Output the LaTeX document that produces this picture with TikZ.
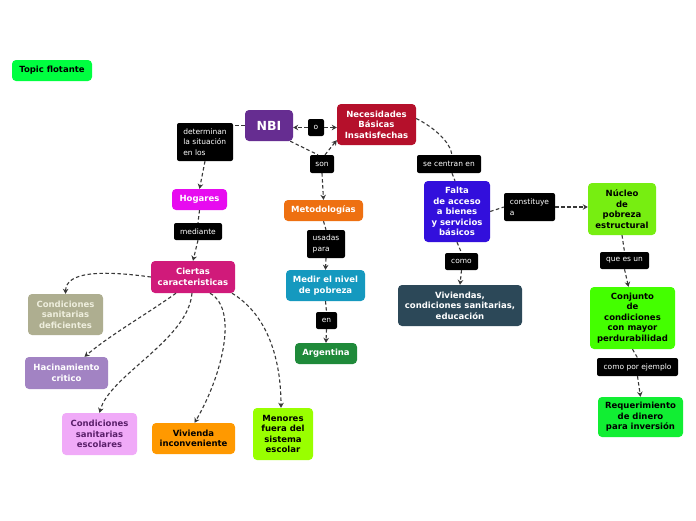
\documentclass[tikz,border=0pt]{standalone}
\usepackage{fontspec}
\setmainfont{DejaVu Sans}
\usetikzlibrary{arrows.meta,calc}
\definecolor{cnbi}{RGB}{102,45,145}
\definecolor{cnec}{RGB}{181,16,43}
\definecolor{chog}{RGB}{231,11,240}
\definecolor{cmet}{RGB}{238,112,17}
\definecolor{ccie}{RGB}{208,26,122}
\definecolor{cmed}{RGB}{21,153,191}
\definecolor{carg}{RGB}{31,138,58}
\definecolor{cfal}{RGB}{50,15,220}
\definecolor{cviv}{RGB}{44,72,88}
\definecolor{cnuc}{RGB}{119,238,17}
\definecolor{ccon}{RGB}{68,255,0}
\definecolor{creq}{RGB}{17,238,51}
\definecolor{ctop}{RGB}{0,255,64}
\definecolor{cdef}{RGB}{174,174,144}
\definecolor{tdef}{RGB}{238,238,221}
\definecolor{chac}{RGB}{162,131,195}
\definecolor{cesc}{RGB}{240,170,248}
\definecolor{tesc}{RGB}{90,31,106}
\definecolor{cvin}{RGB}{255,153,0}
\definecolor{cmen}{RGB}{153,255,0}
\definecolor{cline}{RGB}{55,55,55}
\tikzset{
  box/.style={rounded corners=4pt, font=\bfseries\fontsize{8.5}{10.5}\selectfont, align=center, inner sep=1pt, text=white},
  lbl/.style={fill=black, rounded corners=2pt, text=white, font=\fontsize{7.5}{10.5}\selectfont, inner sep=1pt},
  conn/.style={draw=cline, line width=1.1pt, dash pattern=on 3.5pt off 2.5pt},
  arr/.style={-{Stealth[length=5pt,width=5.5pt]}}
}
\begin{document}
\begin{tikzpicture}[x=1pt,y=-1pt]
\useasboundingbox[fill=white] (0,0) rectangle (696,520);
% nodes
\node[box, fill=ctop, text=black, minimum width=80pt, minimum height=21pt] (top) at (52,70.5) {Topic flotante};
\node[box, fill=cnbi, font=\bfseries\fontsize{12.5}{14}\selectfont, minimum width=48pt, minimum height=31pt] (nbi) at (269,125.5) {NBI};
\node[box, fill=cnec, minimum width=79pt, minimum height=41pt] (nec) at (376.5,124.5) {Necesidades\\Básicas\\Insatisfechas};
\node[lbl, minimum width=16pt, minimum height=17pt] (o) at (316,127.5) {o};
\node[lbl, align=left, minimum width=56pt, minimum height=38pt] (det) at (205,142) {determinan\\la situación\\en los};
\node[lbl, minimum width=24pt, minimum height=18pt] (son) at (322,164) {son};
\node[lbl, minimum width=64pt, minimum height=18pt] (sce) at (449,164) {se centran en};
\node[box, fill=chog, minimum width=55pt, minimum height=21pt] (hog) at (199.5,199.5) {Hogares};
\node[box, fill=cmet, minimum width=79pt, minimum height=21pt] (met) at (323.5,210.5) {Metodologías};
\node[lbl, minimum width=48pt, minimum height=17pt] (mdt) at (198,231.5) {mediante};
\node[lbl, align=left, minimum width=38pt, minimum height=28pt] (usa) at (326,244) {usadas\\para};
\node[box, fill=cfal, minimum width=66pt, minimum height=61pt] (fal) at (457,211.5) {Falta\\de acceso\\a bienes\\y servicios\\básicos};
\node[lbl, align=left, minimum width=51pt, minimum height=28pt] (cst) at (529.5,207) {constituye\\a};
\node[box, fill=cnuc, text=black, minimum width=68pt, minimum height=52pt] (nuc) at (622,209) {Núcleo\\de\\pobreza\\estructural};
\node[lbl, minimum width=33pt, minimum height=17pt] (como) at (461.5,261.5) {como};
\node[lbl, minimum width=49pt, minimum height=17pt] (qeu) at (624.5,260.5) {que es un};
\node[box, fill=ccie, minimum width=84pt, minimum height=32pt] (cie) at (193,277) {Ciertas\\caracteristicas};
\node[box, fill=cmed, minimum width=79pt, minimum height=31pt] (med) at (325.5,285.5) {Medir el nivel\\de pobreza};
\node[box, fill=cviv, minimum width=124pt, minimum height=41pt] (viv) at (460,305.5) {Viviendas,\\condiciones sanitarias,\\educación};
\node[box, fill=ccon, text=black, minimum width=85pt, minimum height=62pt] (cnj) at (632.5,318) {Conjunto\\de\\condiciones\\con mayor\\perdurabilidad};
\node[box, fill=cdef, text=tdef, minimum width=75pt, minimum height=41pt] (def) at (65.5,314.5) {Condiciones\\sanitarias\\deficientes};
\node[lbl, minimum width=21pt, minimum height=17pt] (en) at (326.5,320.5) {en};
\node[box, fill=carg, minimum width=62pt, minimum height=21pt] (arg) at (326,353.5) {Argentina};
\node[box, fill=chac, minimum width=83pt, minimum height=32pt] (hac) at (66.5,373) {Hacinamiento\\critico};
\node[lbl, minimum width=81pt, minimum height=18pt] (cpe) at (637.5,367) {como por ejemplo};
\node[box, fill=creq, text=black, minimum width=85pt, minimum height=40pt] (req) at (640.5,417) {Requerimiento\\de dinero\\para inversión};
\node[box, fill=cesc, text=tesc, minimum width=75pt, minimum height=42pt] (esc) at (99.5,434) {Condiciones\\sanitarias\\escolares};
\node[box, fill=cvin, text=black, minimum width=83pt, minimum height=31pt] (vin) at (193.5,438.5) {Vivienda\\inconveniente};
\node[box, fill=cmen, text=black, minimum width=60pt, minimum height=52pt] (men) at (283,434) {Menores\\fuera del\\sistema\\escolar};
% connectors
\draw[conn] (nbi.west) -- (det.east |- nbi.west);
\draw[conn,arr] (det.south) -- (hog.north);
\draw[conn,arr] (o.west) -- (nbi.east |- o.west);
\draw[conn,arr] (o.east) -- (nec.west |- o.east);
\draw[conn] ($(nbi.south east)+(-3,0)$) -- ($(son.north)+(-4,0)$);
\draw[conn,arr] ($(son.north)+(3,0)$) -- ($(nec.south west)+(0,-5)$);
\draw[conn,arr] (son.south) -- (met.north);
\draw[conn] ($(nec.east)+(0,-6)$) .. controls (435,128) and (450,142) .. ($(sce.north)+(3,0)$);
\draw[conn] ($(sce.south)+(3,0)$) -- ($(fal.north)+(-2,0)$);
\draw[conn] (hog.south) -- (mdt.north);
\draw[conn,arr] (mdt.south) -- (cie.north);
\draw[conn] (met.south) -- (usa.north);
\draw[conn,arr] (usa.south) -- (med.north);
\draw[conn] (med.south) -- (en.north);
\draw[conn,arr] (en.south) -- (arg.north);
\draw[conn] (fal.south) -- (como.north);
\draw[conn,arr] (como.south) -- (viv.north);
\draw[conn] (fal.east) -- (cst.west);
\draw[conn,arr] (cst.east) -- (nuc.west |- cst.east);
\draw[conn] (nuc.south) -- (qeu.north);
\draw[conn,arr] (qeu.south) -- ($(cnj.north)+(-4,0)$);
\draw[conn] (cnj.south) -- (cpe.north);
\draw[conn,arr] (cpe.south) -- (req.north);
\draw[conn,arr] (cie.west) .. controls (100,270) and (66,272) .. (def.north);
\draw[conn,arr] ($(cie.south)+(-17,0)$) .. controls (150,312) and (110,335) .. ($(hac.north)+(18,0)$);
\draw[conn,arr] ($(cie.south)+(-1,0)$) .. controls (188,340) and (110,375) .. (esc.north);
\draw[conn,arr] ($(cie.south)+(17,0)$) .. controls (240,310) and (220,380) .. ($(vin.north)+(1,0)$);
\draw[conn,arr] ($(cie.south)+(39,0)$) .. controls (268,315) and (281,360) .. ($(men.north)+(-2,0)$);
\end{tikzpicture}
\end{document}
